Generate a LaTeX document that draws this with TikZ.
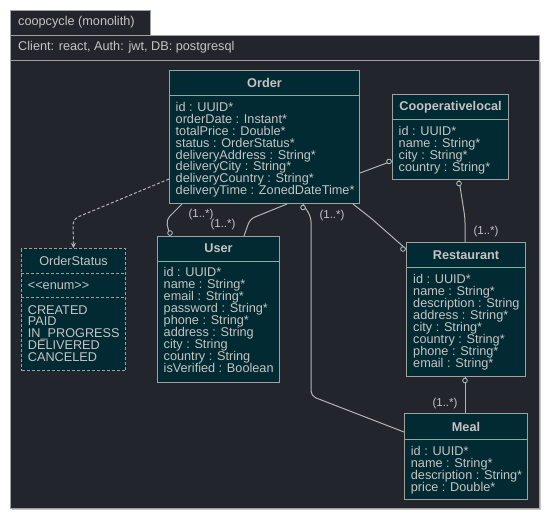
\documentclass[tikz,border=0pt]{standalone}
\usepackage{fontspec}
\setmainfont{Liberation Sans}
\usetikzlibrary{calc,arrows.meta}
\definecolor{bgdark}{HTML}{22252B}
\definecolor{boxfill}{HTML}{012A33}
\definecolor{edgegray}{HTML}{A0A0A0}
\definecolor{txt}{HTML}{C4C4C4}
\definecolor{wire}{HTML}{B4B4B4}
\begin{document}
\begin{tikzpicture}[x=1pt,y=-1pt,
  framebox/.style={draw=edgegray, fill=bgdark, line width=1pt, inner sep=0pt, anchor=north west},
  frametext/.style={text=txt, font=\fontsize{12.7}{14}\selectfont, inner sep=0pt},
  classbox/.style={draw=edgegray, fill=boxfill, line width=1pt, inner sep=0pt, anchor=north west},
  sepline/.style={draw=edgegray, line width=1pt},
  ctitle/.style={text=txt, font=\fontsize{12.7}{14}\selectfont\bfseries, inner sep=0pt},
  etitle/.style={text=txt, font=\fontsize{12.7}{14}\selectfont, inner sep=0pt},
  attrs/.style={text=txt, font=\fontsize{12.7}{11.9}\selectfont, align=left, inner sep=0pt, anchor=north west},
  wireline/.style={draw=wire, line width=1pt, rounded corners=5pt},
  marker/.style={draw=wire, fill=boxfill, line width=0.9pt},
  mult/.style={text=txt, font=\fontsize{11.5}{13}\selectfont, inner sep=0pt},
  dashpat/.style={dash pattern=on 3pt off 2pt},
]
\useasboundingbox (0,0) rectangle (548,520);
\fill[white] (0,0) rectangle (548,520);
% package frame
\fill[black!22] (11.5,61.5) rectangle (540.5,509.8);
\node[framebox, minimum width=140pt, minimum height=25pt] (tab) at (10,10) {};
\node[frametext, anchor=west] (tabT) at (18,22.5) {coopcycle (monolith)};
\node[framebox, minimum width=529pt, minimum height=25pt] (hdr) at (10,35) {};
\node[frametext, anchor=west] (hdrT) at (18,47.5) {Client: react, Auth: jwt, DB: postgresql};
\node[framebox, minimum width=529pt, minimum height=448pt] (body) at (10,60) {};

% Order
\node[classbox, minimum width=190pt, minimum height=133pt] (Order) at (169,70) {};
\draw[sepline] ($(Order.north west)+(0,25)$) -- ($(Order.north east)+(0,25)$);
\node[ctitle] (OrderT) at ($(Order.north)+(0,13)$) {Order};
\node[attrs] (OrderA) at ($(Order.north west)+(6.5,32)$) {id : UUID*\\orderDate : Instant*\\totalPrice : Double*\\status : OrderStatus*\\deliveryAddress : String*\\deliveryCity : String*\\deliveryCountry : String*\\deliveryTime : ZonedDateTime*};

% Cooperativelocal
\node[classbox, minimum width=116pt, minimum height=85pt] (Coop) at (392,94) {};
\draw[sepline] ($(Coop.north west)+(0,25)$) -- ($(Coop.north east)+(0,25)$);
\node[ctitle] (CoopT) at ($(Coop.north)+(0,13)$) {Cooperativelocal};
\node[attrs] (CoopA) at ($(Coop.north west)+(6.5,32.5)$) {id : UUID*\\name : String*\\city : String*\\country : String*};

% User
\node[classbox, minimum width=122pt, minimum height=146pt] (User) at (157,236) {};
\draw[sepline] ($(User.north west)+(0,25)$) -- ($(User.north east)+(0,25)$);
\node[ctitle] (UserT) at ($(User.north)+(0,12.5)$) {User};
\node[attrs] (UserA) at ($(User.north west)+(6.5,31.5)$) {id : UUID*\\name : String*\\email : String*\\password : String*\\phone : String*\\address : String\\city : String\\country : String\\isVerified : Boolean};

% Restaurant
\node[classbox, minimum width=119pt, minimum height=134pt] (Restaurant) at (406,242) {};
\draw[sepline] ($(Restaurant.north west)+(0,25)$) -- ($(Restaurant.north east)+(0,25)$);
\node[ctitle] (RestaurantT) at ($(Restaurant.north)+(0,13)$) {Restaurant};
\node[attrs] (RestaurantA) at ($(Restaurant.north west)+(7,32.3)$) {id : UUID*\\name : String*\\description : String\\address : String*\\city : String*\\country : String*\\phone : String*\\email : String*};

% Meal
\node[classbox, minimum width=123pt, minimum height=86pt] (Meal) at (404,413) {};
\draw[sepline] ($(Meal.north west)+(0,26)$) -- ($(Meal.north east)+(0,26)$);
\node[ctitle] (MealT) at ($(Meal.north)+(0,13.5)$) {Meal};
\node[attrs] (MealA) at ($(Meal.north west)+(6.7,33.5)$) {id : UUID*\\name : String*\\description : String*\\price : Double*};

% OrderStatus (enum)
\node[classbox, dashpat, minimum width=104pt, minimum height=122pt] (OrderStatus) at (21,248) {};
\draw[sepline, dashpat] ($(OrderStatus.north west)+(0,25)$) -- ($(OrderStatus.north east)+(0,25)$);
\draw[sepline, dashpat] ($(OrderStatus.north west)+(0,49)$) -- ($(OrderStatus.north east)+(0,49)$);
\node[etitle] (OrderStatusT) at ($(OrderStatus.north)+(0,12.7)$) {OrderStatus};
\node[etitle, anchor=west] (OrderStatusS) at ($(OrderStatus.north west)+(6.7,38)$) {<\kern0pt<enum>\kern0pt>};
\node[attrs] (OrderStatusA) at ($(OrderStatus.north west)+(6.7,57)$) {CREATED\\PAID\\IN\_PROGRESS\\DELIVERED\\CANCELED};

% connectors
\coordinate (d1) at (73,219);
\draw[wireline, dashpat, -{Stealth[length=5pt,width=5pt]}] ($(Order.south west)+(0,-25)$) -- (d1) -- (OrderStatus.north);

\coordinate (ua) at (166,220);
\draw[wireline] ($(Order.south west)+(13,0)$) -- (ua) -- ($(User.north west)+(13,0)$);

\coordinate (ub) at (250,219);
\draw[wireline] ($(Order.south west)+(118,0)$) -- (ub) -- ($(User.north west)+(87,0)$);

\coordinate (m1) at (311,217);
\coordinate (m2) at (311,396);
\draw[wireline] ($(Order.south west)+(134,0)$) -- (m1) -- (m2) -- ($(Meal.north west)+(0,19)$);

\coordinate (r1) at (372,219);
\draw[wireline] ($(Order.south east)+(-7,0)$) -- (r1) -- ($(Restaurant.north west)+(0,7)$);

\draw[wireline] ($(Order.north east)+(0,103)$) -- ($(Coop.north west)+(0,67)$);

\coordinate (c1) at (465,218);
\draw[wireline] ($(Coop.south west)+(67,0)$) -- (c1) -- ($(Restaurant.north west)+(59,0)$);

\draw[wireline] ($(Restaurant.south west)+(59,0)$) -- ($(Meal.north west)+(61,0)$);

% markers
\draw[marker] ($(User.north west)+(13,-3)$) circle[radius=2.3];
\draw[marker] ($(Order.south west)+(134,3.5)$) circle[radius=2.3];
\draw[marker] ($(Restaurant.north west)+(-3,7)$) circle[radius=2.3];
\draw[marker] ($(Coop.north west)+(-3,67.5)$) circle[radius=2.3];
\draw[marker] ($(Coop.south west)+(67,3.5)$) circle[radius=2.3];
\draw[marker] ($(Restaurant.south west)+(59,3.5)$) circle[radius=2.3];

% multiplicities
\node[mult] (l1) at (201,215) {(1..*)};
\node[mult] (l2) at (223,225) {(1..*)};
\node[mult] (l3) at (332,215.5) {(1..*)};
\node[mult] (l4) at (486,231.5) {(1..*)};
\node[mult] (l5) at (445,403.5) {(1..*)};
\end{tikzpicture}
\end{document}
